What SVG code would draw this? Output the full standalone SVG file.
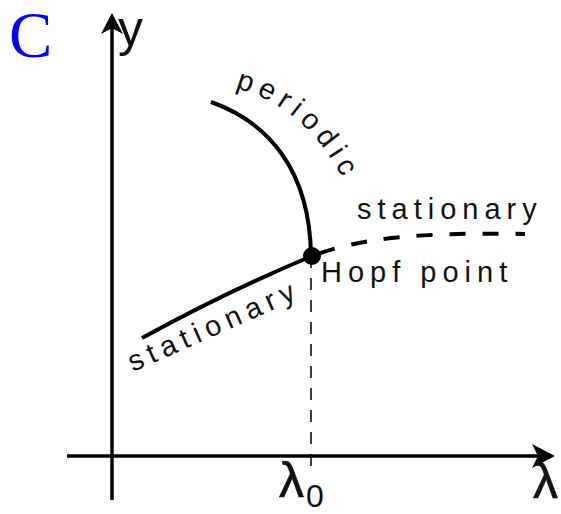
<svg xmlns="http://www.w3.org/2000/svg" width="561" height="514" viewBox="0 0 561 514">
<style>
.lbl{font-family:"Liberation Sans",Arial,sans-serif;font-size:29px;fill:#111;letter-spacing:6px}
.ax{stroke:#000;stroke-width:3.5;fill:none}
.curve{stroke:#000;stroke-width:4;fill:none;stroke-linecap:butt}
.sym{font-family:"Liberation Sans",Arial,sans-serif;fill:#111}
</style>
<defs>
<path id="perPath" d="M235,88 Q312,108 350,194"/>
</defs>
<rect width="561" height="514" fill="#fff"/>
<text x="9" y="57" font-family="Liberation Serif,Times New Roman,serif" font-size="65" fill="#0000ff">C</text>
<g id="axes">
<line class="ax" x1="112" y1="26" x2="112" y2="500"/>
<polygon points="112,13 101,34 112,28 123,34" fill="#000"/>
<line class="ax" x1="67" y1="456" x2="548" y2="456"/>
<polygon points="555,456 532,444 538,456 532,468" fill="#000"/>
<text class="sym" x="118" y="46" font-size="50">y</text>
<text class="sym" x="279" y="497" font-size="50" stroke="#111" stroke-width="0.6">λ</text>
<text class="sym" x="306" y="507" font-size="32">0</text>
<text class="sym" x="533" y="498" font-size="50" stroke="#111" stroke-width="0.6">λ</text>
</g>
<g id="connectors">
<path class="curve" d="M211,102 C268,122 310,170 311,256"/>
<path class="curve" d="M142,338 Q230,290 312,256"/>
<path class="curve" stroke-width="4.5" stroke-dasharray="16,17" stroke-dashoffset="-8" d="M312,256 C360,238 420,232 525,234"/>
<line x1="311" y1="256" x2="311" y2="466" stroke="#000" stroke-width="1.5" stroke-dasharray="12,10"/>
</g>
<g id="hopf">
<circle cx="312" cy="256" r="9" fill="#000"/>
<text class="lbl" x="321" y="282">Hopf point</text>
</g>
<g id="stationary-upper">
<text class="lbl" x="357" y="219">stationary</text>
</g>
<g id="stationary-lower">
<text class="lbl" transform="translate(133,372) rotate(-24)">stationary</text>
</g>
<g id="periodic">
<text class="lbl" letter-spacing="6"><textPath href="#perPath">periodic</textPath></text>
</g>
</svg>
